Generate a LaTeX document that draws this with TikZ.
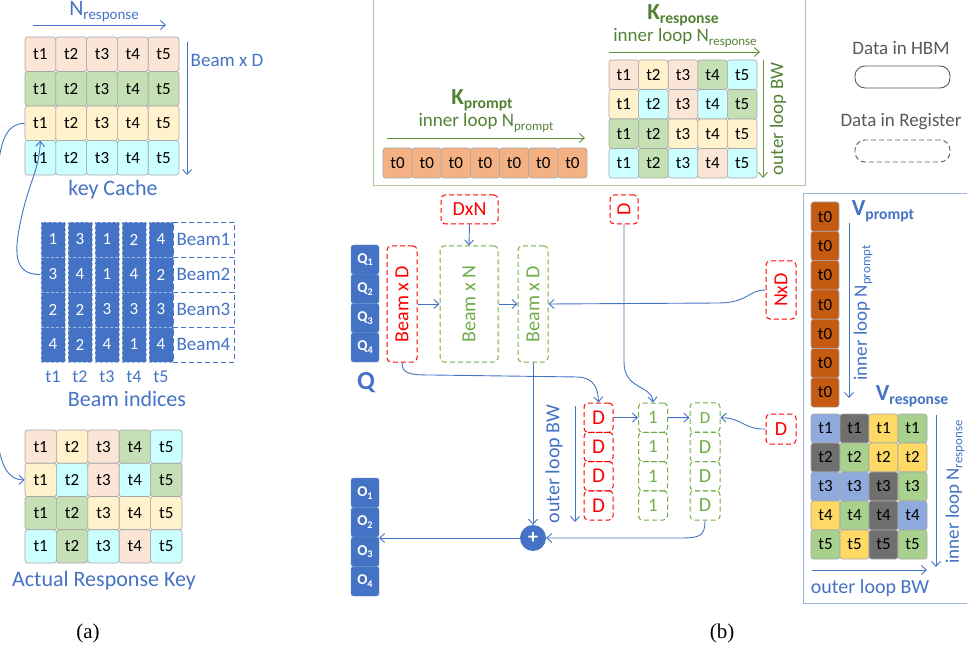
\documentclass[tikz,border=0pt]{standalone}
\usepackage{fontspec}
\setmainfont{Carlito}
\newfontfamily\serifa{Liberation Serif}
\usetikzlibrary{arrows.meta}
\definecolor{cPeach}{HTML}{FBE5D6}
\definecolor{cGreen}{HTML}{C5E0B4}
\definecolor{cYel}{HTML}{FFF2CC}
\definecolor{cCyan}{HTML}{CCFFFF}
\definecolor{cBlue}{HTML}{4472C4}
\definecolor{cRed}{HTML}{FF0000}
\definecolor{gDash}{HTML}{70AD47}
\definecolor{gText}{HTML}{548235}
\definecolor{gBox}{HTML}{B0C89A}
\definecolor{vBlue}{HTML}{8FAADC}
\definecolor{vGray}{HTML}{6F6F6F}
\definecolor{vYel}{HTML}{FFD966}
\definecolor{vGreen}{HTML}{A9D18E}
\definecolor{tOr}{HTML}{F4B183}
\definecolor{tDk}{HTML}{C55A11}
\definecolor{cellLine}{HTML}{A6A6A6}
\definecolor{legGray}{HTML}{595959}
\definecolor{boxBlue}{HTML}{9DB5E0}
\newcommand{\lsub}[1]{\raisebox{-0.18em}{\scalebox{0.68}{#1}}}
\newcommand{\fsz}[1]{\fontsize{#1}{#1}\selectfont}
\tikzset{
  cell/.style={draw=cellLine, line width=0.6pt, rounded corners=2.5pt, inner sep=0pt, font=\fsz{17}},
  conn/.style={draw=cBlue, line width=0.9pt, -{Straight Barb[length=5pt,width=9pt]}},
  gconn/.style={draw=gDash!85!black, line width=0.9pt, -{Straight Barb[length=5pt,width=9pt]}},
  regR/.style={draw=cRed, dash pattern=on 5pt off 3pt, line width=1pt, rounded corners=4pt, inner sep=0pt, text=cRed, font=\fsz{20}},
  regG/.style={draw=gDash, dash pattern=on 5pt off 3pt, line width=1pt, rounded corners=4pt, inner sep=0pt, text=gDash, font=\fsz{20}},
  qcell/.style={fill=cBlue, draw=cBlue!80!white, rounded corners=2.5pt, text=white, font=\fsz{15}\bfseries, minimum width=28pt, inner sep=0pt},
  bicell/.style={fill=cBlue, draw=cBlue!50!white, dash pattern=on 3pt off 2pt, line width=0.6pt, text=white, font=\fsz{17}, minimum width=24pt, minimum height=35pt, inner sep=0pt},
  bl/.style={text=cBlue, font=\fsz{22}},
  gl/.style={text=gText, font=\fsz{19}},
  leg/.style={text=legGray, font=\fsz{19}}
}
\begin{document}
\begin{tikzpicture}[x=1pt,y=-1pt]
\path[use as bounding box] (0,0) rectangle (967,655);

% ---------------- (a) key cache ----------------
\foreach \r/\cl in {1/cPeach,2/cGreen,3/cYel,4/cCyan}
  \foreach \c in {1,...,5}
    \node[cell,fill=\cl,minimum width=30.8pt,minimum height=34.5pt] (kc-\r-\c) at ({25+30.8*(\c-0.5)},{37+34.5*(\r-0.5)}) {t\c};
\node[text=cBlue,font=\fsz{22}] (nresp) at (104,12) {N\lsub{response}};
\coordinate (na1) at (33,25); \coordinate (na2) at (166,25);
\draw[conn] (na1) -- (na2);
\node[text=cBlue,font=\fsz{19}] (bxdlab) at (227,60) {Beam x D};
\coordinate (nb1) at (187,42); \coordinate (nb2) at (187,175);
\draw[conn] (nb1) -- (nb2);
\node[bl] (kclab) at (113,190) {key Cache};

% beam indices
\foreach \r/\vals in {1/{1,3,1,2,4},2/{3,4,1,4,2},3/{2,2,3,3,3},4/{4,2,4,1,4}}
  \foreach \v [count=\c] in \vals
    \node[bicell] (bi-\r-\c) at ({53+27*(\c-1)},{239.5+35*(\r-1)}) {\v};
\foreach \r in {1,...,4}
  \node[draw=cBlue, dash pattern=on 5pt off 3pt, line width=0.8pt, minimum width=61pt, minimum height=35pt, text=cBlue, font=\fsz{19}, inner sep=0pt] (bl-\r) at (203.5,{239.5+35*(\r-1)}) {Beam\r};
\foreach \c in {1,...,5}
  \node[text=cBlue,font=\fsz{18}] (tl-\c) at ({53+27*(\c-1)},377) {t\c};
\node[bl] (bilab) at (127,399) {Beam indices};

% actual response key
\foreach \r/\cl in {1/{cPeach,cYel,cPeach,cGreen,cCyan},2/{cYel,cCyan,cPeach,cCyan,cGreen},3/{cGreen,cGreen,cYel,cYel,cYel},4/{cCyan,cGreen,cCyan,cPeach,cCyan}}
  \foreach \col [count=\c] in \cl
    \node[cell,fill=\col,minimum width=31.4pt,minimum height=33.25pt] (ak-\r-\c) at ({25+31.4*(\c-0.5)},{430+33.25*(\r-0.5)}) {t\c};
\node[bl] (aklab) at (104,581) {Actual Response Key};

\draw[conn] (kc-3-1.west) .. controls (6,124) and (-3,140) .. (-3,200) -- (-3,420) .. controls (-3,465) and (8,480) .. (ak-2-1.west);
\draw[conn] (bi-2-1.west) .. controls (12,275) and (14,250) .. (22,215) .. controls (30,180) and (39,170) .. (kc-3-1.south);

% ---------------- (b) K section ----------------
\draw[gBox, line width=0.8pt] (373,0) -- (373,185) -- (805,185) -- (805,0);
\foreach \i in {1,...,7}
  \node[cell,fill=tOr,minimum width=29.1pt,minimum height=30pt] (kp-\i) at ({383+29.14*(\i-0.5)},163) {t0};
\node[text=gText,font=\fsz{23}\bfseries] (kplab) at (482,100) {K\lsub{prompt}};
\node[gl] (kpinner) at (486,123) {inner loop N\lsub{prompt}};
\coordinate (kpa1) at (387,138); \coordinate (kpa2) at (585,138);
\draw[gconn] (kpa1) -- (kpa2);

\foreach \r/\cl in {1/{cPeach,cYel,cPeach,cGreen,cCyan},2/{cYel,cCyan,cPeach,cCyan,cGreen},3/{cGreen,cGreen,cYel,cYel,cYel},4/{cCyan,cGreen,cCyan,cPeach,cCyan}}
  \foreach \col [count=\c] in \cl
    \node[cell,fill=\col,minimum width=29.6pt,minimum height=29.5pt] (kr-\r-\c) at ({609+29.6*(\c-0.5)},{60+29.5*(\r-0.5)}) {t\c};
\node[text=gText,font=\fsz{23}\bfseries] (krlab) at (683,15) {K\lsub{response}};
\node[gl] (krinner) at (685,38) {inner loop N\lsub{response}};
\coordinate (kra1) at (609,52); \coordinate (kra2) at (760,52);
\draw[gconn] (kra1) -- (kra2);
\coordinate (krb1) at (763,60); \coordinate (krb2) at (763,178);
\draw[gconn] (krb1) -- (krb2);
\node[gl,rotate=90] (krouter) at (778,119) {outer loop BW};

% legend
\node[leg] (leg1) at (901,48) {Data in HBM};
\node[draw=legGray, line width=0.9pt, rounded corners=10pt, minimum width=95pt, minimum height=22pt] (legp1) at (902.5,77) {};
\node[leg] (leg2) at (901,122) {Data in Register};
\node[draw=legGray, line width=0.9pt, dash pattern=on 5pt off 3pt, rounded corners=10pt, minimum width=95pt, minimum height=22pt] (legp2) at (902.5,151) {};

% ---------------- V section ----------------
\draw[boxBlue, line width=0.8pt] (967,193) -- (803,193) -- (803,603) -- (967,603);
\foreach \i in {1,...,7}
  \node[cell,fill=tDk,minimum width=28pt,minimum height=29.3pt] (vp-\i) at (825,{202+29.3*(\i-0.5)}) {t0};
\node[text=cBlue,font=\fsz{23}\bfseries] (vplab) at (883,211) {V\lsub{prompt}};
\coordinate (vpa1) at (849,223); \coordinate (vpa2) at (849,398);
\draw[conn] (vpa1) -- (vpa2);
\node[text=cBlue,font=\fsz{19},rotate=90] (vpinner) at (863,313) {inner loop N\lsub{prompt}};

\foreach \r/\cl in {1/{vBlue,vGray,vYel,vGreen},2/{vGray,vGreen,vYel,vYel},3/{vBlue,vBlue,vGray,vGreen},4/{vYel,vGreen,vGray,vBlue},5/{vGreen,vYel,vGray,vGreen}}
  \foreach \col [count=\c] in \cl
    \node[cell,fill=\col,minimum width=29pt,minimum height=29pt] (vr-\r-\c) at ({811+29*(\c-0.5)},{414+29*(\r-0.5)}) {t\r};
\node[text=cBlue,font=\fsz{23}\bfseries] (vrlab) at (912,396) {V\lsub{response}};
\coordinate (vra1) at (936,415); \coordinate (vra2) at (936,567);
\draw[conn] (vra1) -- (vra2);
\node[text=cBlue,font=\fsz{19},rotate=90] (vrinner) at (955,492) {inner loop N\lsub{response}};
\coordinate (vrb1) at (812,570); \coordinate (vrb2) at (927,570);
\draw[conn] (vrb1) -- (vrb2);
\node[text=cBlue,font=\fsz{20}] (vrouter) at (870,588) {outer loop BW};

% ---------------- middle ----------------
\foreach \i in {1,...,4}
  \node[qcell,minimum height=29.25pt] (q-\i) at (365,{245+29.25*(\i-0.5)}) {Q\lsub{\i}};
\node[text=cBlue,font=\fsz{26}\bfseries] (qlab) at (366,383) {Q};
\foreach \i in {1,...,4}
  \node[qcell,minimum height=29.5pt] (o-\i) at (365,{478+29.5*(\i-0.5)}) {O\lsub{\i}};

\node[regR,minimum width=30pt,minimum height=116pt] (bxdR) at (402,304) {};
\node[rotate=90,text=cRed,font=\fsz{20}] (bxdRt) at (bxdR.center) {Beam x D};
\node[regG,minimum width=58pt,minimum height=116pt] (bxnG) at (469,304) {};
\node[rotate=90,text=gDash,font=\fsz{20}] (bxnGt) at (bxnG.center) {Beam x N};
\node[regG,minimum width=30pt,minimum height=116pt] (bxdG) at (533,304) {};
\node[rotate=90,text=gDash,font=\fsz{20}] (bxdGt) at (bxdG.center) {Beam x D};

\node[regR,minimum width=57pt,minimum height=29pt] (dxn) at (469.5,209.5) {DxN};
\node[regR,minimum width=28pt,minimum height=29pt] (dtop) at (624,209.5) {};
\node[rotate=90,text=cRed,font=\fsz{20}] (dtopt) at (dtop.center) {D};
\node[regR,minimum width=30pt,minimum height=58pt] (nxd) at (781,290) {};
\node[rotate=90,text=cRed,font=\fsz{20}] (nxdt) at (nxd.center) {NxD};
\node[regR,minimum width=30pt,minimum height=30pt] (dright) at (781,429) {D};

\foreach \i in {1,...,4}{
  \node[regR,minimum width=29pt,minimum height=29.25pt,font=\fsz{21}] (rd-\i) at (598.5,{403+29.25*(\i-0.5)}) {D};
  \node[regG,minimum width=29pt,minimum height=29.25pt,font=\fsz{19}] (g1-\i) at (653,{403+29.25*(\i-0.5)}) {1};
}
\node[regG,minimum width=30pt,minimum height=29.25pt,font=\fsz{17}] (gd-1) at (705,417.6) {D};
\foreach \i in {2,...,4}
  \node[regG,minimum width=30pt,minimum height=29.25pt] (gd-\i) at (705,{403+29.25*(\i-0.5)}) {D};

\node[circle,fill=cBlue,minimum size=26pt,inner sep=0pt,text=white,font=\fsz{20}\bfseries] (plus) at (533,538) {+};
\node[rotate=90,text=cBlue,font=\fsz{20}] (olbw) at (554,464) {outer loop BW};
\coordinate (ola1) at (575,406); \coordinate (ola2) at (575,522);
\draw[conn] (ola1) -- (ola2);

% connectors
\draw[conn] (dxn.south) -- (bxnG.north);
\draw[conn] (bxdR.east) -- (bxnG.west);
\draw[conn] (bxnG.east) -- (bxdG.west);
\draw[conn] (nxd.west) .. controls (748,290) and (748,303) .. (718,303) -- (bxdG.east);
\draw[conn] (dtop.south) -- (624,362) .. controls (624,390) and (652,385) .. (g1-1.north);
\draw[conn] (bxdR.south) .. controls (402,374) and (410,375) .. (432,375) -- (578,377) .. controls (594,378) and (598,388) .. (rd-1.north);
\draw[conn] (bxdG.south) -- (plus.north);
\draw[conn] (rd-1.east) -- (g1-1.west);
\draw[conn] (g1-1.east) -- (gd-1.west);
\draw[conn] (dright.west) .. controls (745,430) and (742,418) .. (gd-1.east);
\draw[conn] (gd-4.south) .. controls (705,536) and (700,538) .. (680,538) -- (plus.east);
\coordinate (oin) at (379,538);
\draw[conn] (plus.west) -- (oin);

% captions
\node[font=\serifa\fsz{21}] (capa) at (88,633) {(a)};
\node[font=\serifa\fsz{21}] (capb) at (722,633) {(b)};
\end{tikzpicture}
\end{document}
